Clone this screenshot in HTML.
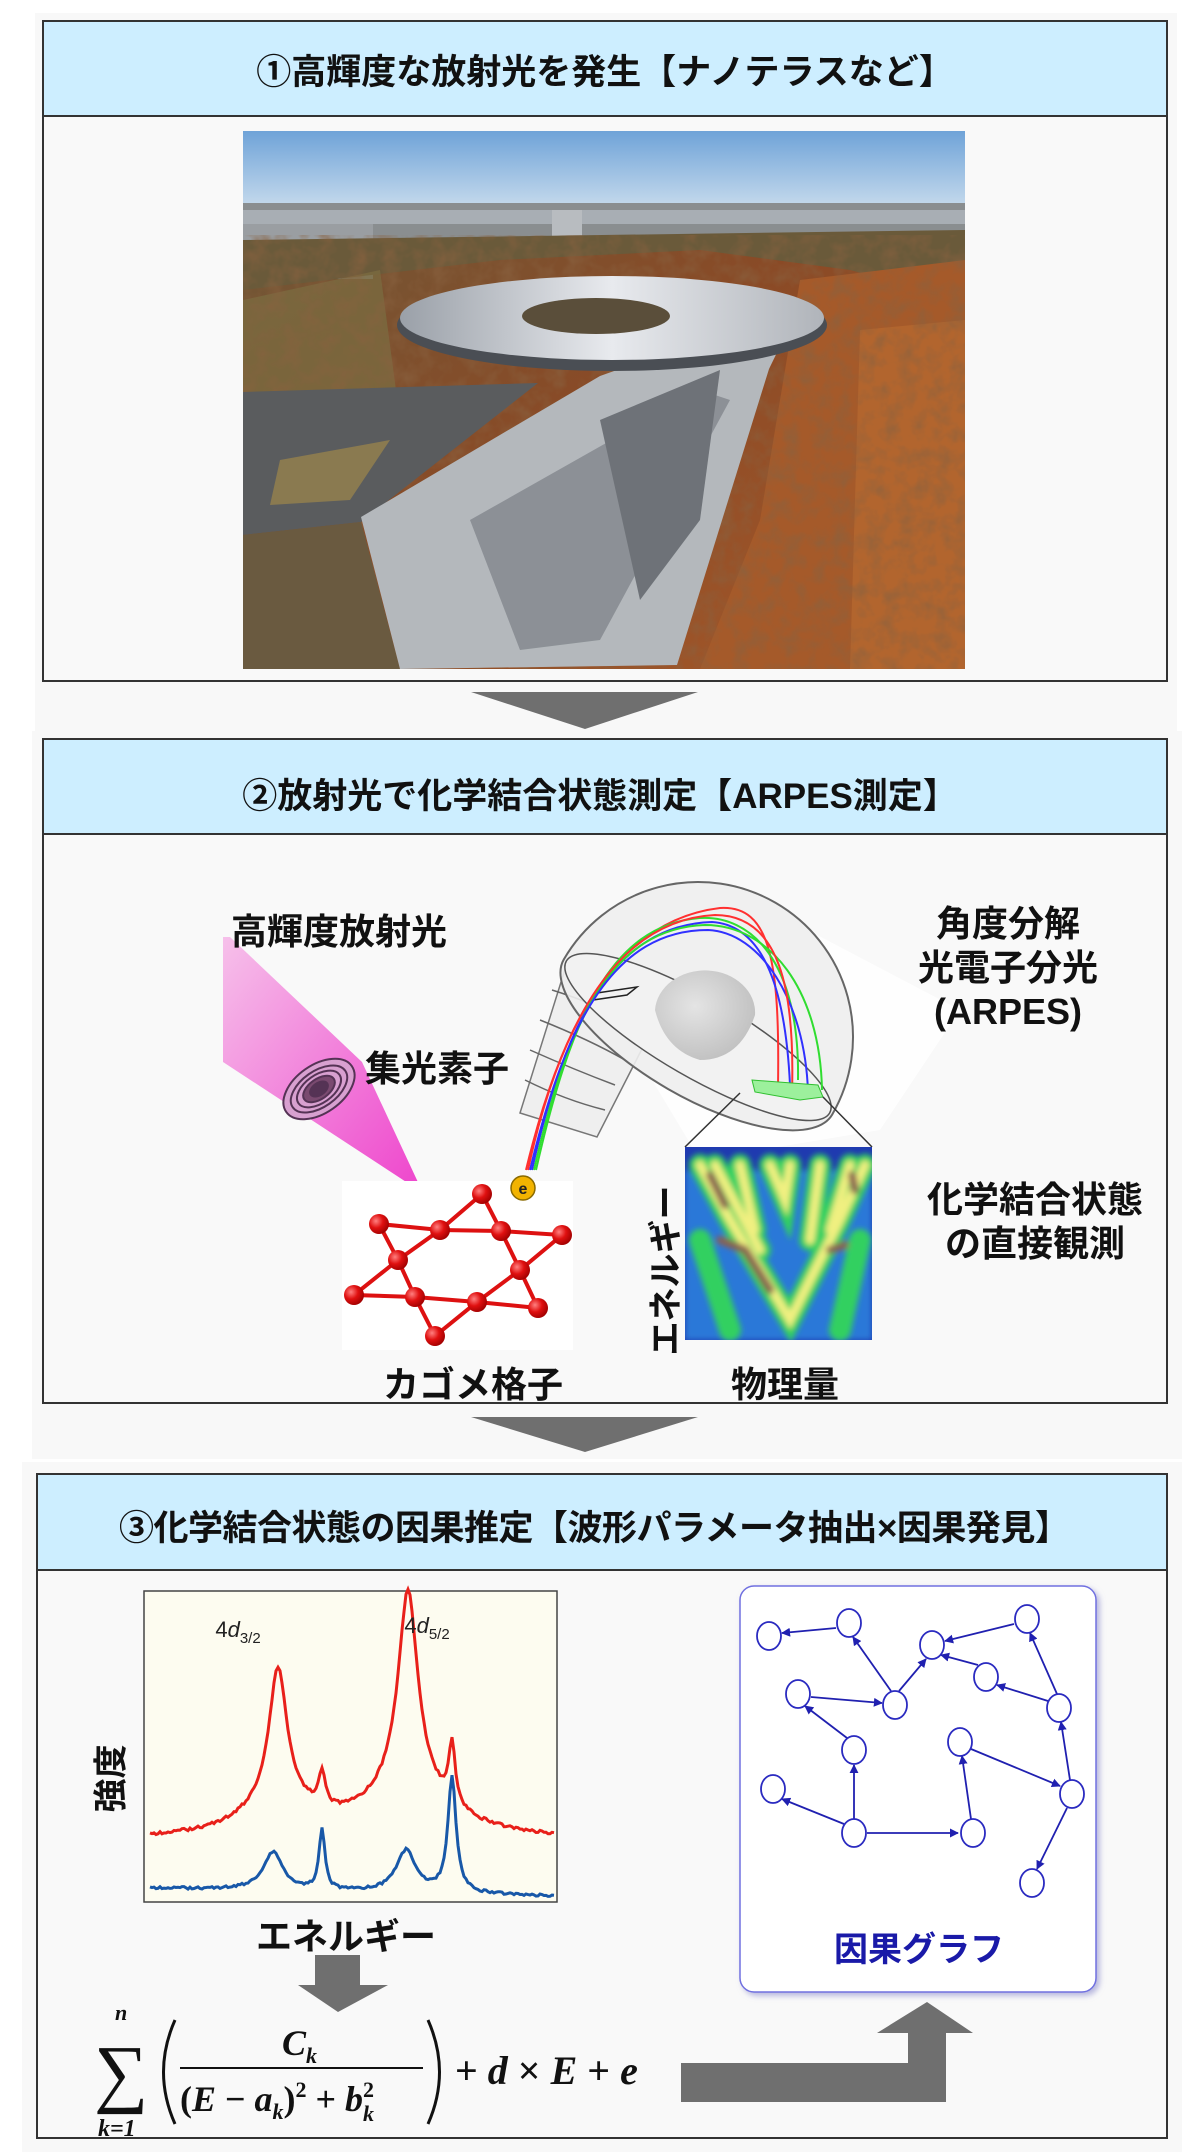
<!DOCTYPE html>
<html><head><meta charset="utf-8">
<style>
html,body{margin:0;padding:0;background:#fff;}
body{width:1200px;height:2155px;position:relative;overflow:hidden;font-family:"Liberation Sans","Noto Sans CJK JP",sans-serif;}
.t{position:absolute;font-weight:bold;color:#111;white-space:nowrap;font-family:"Liberation Sans","Noto Sans CJK JP",sans-serif;}
</style></head><body>
<svg width="1200" height="2155" viewBox="0 0 1200 2155" style="position:absolute;left:0;top:0">
<defs>
<linearGradient id="sky" x1="0" y1="0" x2="0" y2="1"><stop offset="0" stop-color="#6fa3d8"/><stop offset="1" stop-color="#c4d9ec"/></linearGradient>
<linearGradient id="forest" x1="0" y1="0" x2="1" y2="1"><stop offset="0" stop-color="#6a5a3a"/><stop offset="0.5" stop-color="#8a4a26"/><stop offset="1" stop-color="#a85a2a"/></linearGradient>
<linearGradient id="beam" x1="0" y1="0" x2="1" y2="1"><stop offset="0" stop-color="#f6c0ea"/><stop offset="1" stop-color="#ee44cc"/></linearGradient>
<linearGradient id="ring" x1="0" y1="0" x2="1" y2="0"><stop offset="0" stop-color="#9aa0a8"/><stop offset="0.5" stop-color="#e8eaee"/><stop offset="1" stop-color="#b0b4ba"/></linearGradient>
<radialGradient id="ball" cx="0.35" cy="0.35" r="0.7"><stop offset="0" stop-color="#ff8080"/><stop offset="0.5" stop-color="#e01010"/><stop offset="1" stop-color="#a00000"/></radialGradient>
<radialGradient id="hemi" cx="0.4" cy="0.4" r="0.7"><stop offset="0" stop-color="#e4e4e4"/><stop offset="1" stop-color="#bdbdbd"/></radialGradient>
<filter id="bl" x="-10%" y="-10%" width="120%" height="120%"><feGaussianBlur stdDeviation="3"/></filter>
<filter id="tex" x="0" y="0" width="100%" height="100%"><feTurbulence type="fractalNoise" baseFrequency="0.06" numOctaves="3" seed="4"/><feColorMatrix values="0 0 0 0 0.25  0 0 0 0 0.12  0 0 0 0 0.05  0 0 0 1.3 -0.5"/></filter>
<filter id="sh"><feDropShadow dx="3" dy="3" stdDeviation="3" flood-color="#8888cc" flood-opacity="0.6"/></filter>
<clipPath id="photo"><rect x="243" y="131" width="722" height="538"/></clipPath>
<clipPath id="arp"><rect x="685" y="1147" width="187" height="193"/></clipPath>
<marker id="ah" viewBox="0 0 10 10" refX="9" refY="5" markerWidth="9" markerHeight="9" markerUnits="userSpaceOnUse" orient="auto"><path d="M0,0 L10,5 L0,10 z" fill="#2020b0"/></marker>
</defs>

<rect x="35" y="13" width="1142" height="718" fill="#f8f8f8"/>
<rect x="32" y="731" width="1150" height="728" fill="#f8f8f8"/>
<rect x="22" y="1462" width="1160" height="690" fill="#f8f8f8"/>

<rect x="43" y="21" width="1124" height="660" fill="#f9f9f9" stroke="#333" stroke-width="2"/>
<rect x="43" y="21" width="1124" height="95" fill="#cdeeff" stroke="#333" stroke-width="2"/>
<rect x="43" y="739" width="1124" height="664" fill="#f9f9f9" stroke="#333" stroke-width="2"/>
<rect x="43" y="739" width="1124" height="95" fill="#cdeeff" stroke="#333" stroke-width="2"/>
<rect x="37" y="1474" width="1130" height="664" fill="#f9f9f9" stroke="#333" stroke-width="2"/>
<rect x="37" y="1474" width="1130" height="96" fill="#cdeeff" stroke="#333" stroke-width="2"/>

<polygon points="471,692 698,692 585,729" fill="#6f6f6f"/>
<polygon points="471,1417 698,1417 585,1452" fill="#6f6f6f"/>

<g clip-path="url(#photo)">
<rect x="243" y="131" width="722" height="538" fill="url(#forest)"/>
<rect x="243" y="131" width="722" height="75" fill="url(#sky)"/>
<rect x="243" y="203" width="722" height="40" fill="#8a8e90"/>
<rect x="243" y="210" width="722" height="14" fill="#a8aeb4"/>
<rect x="243" y="224" width="130" height="55" fill="#9a9ea2"/>
<rect x="552" y="210" width="30" height="35" fill="#b8bcc0"/>
<path d="M243,240 L965,230 L965,300 L850,270 L700,250 L500,260 L243,290 Z" fill="#6a5a3a"/>
<path d="M243,300 L380,270 L400,420 L243,470 Z" fill="#7a6a40" opacity="0.8"/>
<path d="M800,280 L965,260 L965,669 L700,669 L760,520 Z" fill="#a55a2a"/>
<path d="M860,330 L965,320 L965,669 L850,669 Z" fill="#b86a30" opacity="0.7"/>
<rect x="243" y="235" width="722" height="434" filter="url(#tex)"/>
<path d="M243,392 L538,383 L361,522 L243,535 Z" fill="#5a5c5e"/>
<path d="M280,460 L390,440 L350,500 L270,505 Z" fill="#8a7a50"/>
<path d="M243,535 L361,522 L400,669 L243,669 Z" fill="#6a5a40"/>
<path d="M361,517 L600,376 L800,305 L769,369 L677,665 L400,669 Z" fill="#b4b8bc"/>
<path d="M470,520 L700,390 L730,400 L600,640 L520,650 Z" fill="#8c9096"/>
<path d="M600,420 L720,370 L700,520 L640,600 Z" fill="#6e7278"/>
<ellipse cx="612" cy="325" rx="215" ry="46" fill="#4a4e54"/>
<ellipse cx="612" cy="318" rx="212" ry="42" fill="url(#ring)"/>
<ellipse cx="596" cy="316" rx="74" ry="18" fill="#5a4e3a"/>
</g>

<polygon points="600,930 760,905 960,1010 880,1130 700,1160 640,1060" fill="#ffffff" opacity="0.8"/>
<polygon points="223,937 230,937 362,1062 423,1193 223,1062" fill="url(#beam)"/>
<g transform="translate(319,1089) rotate(-35)" fill="none" stroke="#553355" stroke-width="2">
<ellipse rx="40" ry="24" fill="#d8a0d0"/><ellipse rx="32" ry="18"/><ellipse rx="25" ry="14"/><ellipse rx="18" ry="10" fill="#7a4a70"/><ellipse rx="10" ry="6" fill="#553355"/>
</g>
<rect x="342" y="1181" width="231" height="169" fill="#fff"/>
<g stroke="#dd1111" stroke-width="4" fill="none">
<polyline points="482,1194 440,1230 398,1260 354,1295 415,1297 477,1302 538,1308 520,1270 501,1231 482,1194"/>
<polyline points="379,1224 440,1230 501,1231 562,1235 520,1270 477,1302 435,1336 415,1297 398,1260 379,1224"/>
</g>
<g fill="url(#ball)">
<circle cx="482" cy="1194" r="10"/><circle cx="379" cy="1224" r="10"/><circle cx="440" cy="1230" r="10"/><circle cx="501" cy="1231" r="10"/><circle cx="562" cy="1235" r="10"/><circle cx="398" cy="1260" r="10"/><circle cx="520" cy="1270" r="10"/><circle cx="354" cy="1295" r="10"/><circle cx="415" cy="1297" r="10"/><circle cx="477" cy="1302" r="10"/><circle cx="538" cy="1308" r="10"/><circle cx="435" cy="1336" r="10"/>
</g>

<path d="M567,963 L643,1047 L597,1137 L520,1113 Z" fill="#efefef" stroke="#777" stroke-width="1.5"/>
<g stroke="#666" stroke-width="1.5" fill="none">
<path d="M552,990 Q600,1005 633,1025"/><path d="M540,1020 Q590,1040 625,1060"/><path d="M530,1050 Q575,1070 615,1085"/><path d="M525,1080 Q565,1100 605,1110"/>
</g>
<g transform="translate(698,1037) rotate(30)">
<path d="M-155,0 A155,155 0 0 1 155,0 A155,60 0 0 1 -155,0 Z" fill="#eeeeee" fill-opacity="0.9" stroke="#666" stroke-width="2"/>
<ellipse rx="152" ry="40" fill="#f2f2f2" stroke="#555" stroke-width="1.5"/>
</g>
<path d="M655,1010 A50,42 0 0 1 755,1015 Q740,1060 700,1060 Q665,1050 655,1010 Z" fill="url(#hemi)"/>
<polygon points="597,993 637,987 627,995 593,1000" fill="none" stroke="#222" stroke-width="1.5"/>
<g fill="none" stroke-width="2">
<path d="M528,1170 C560,1020 620,920 720,908 C770,905 780,960 778,1088" stroke="#ff3030"/>
<path d="M532,1170 C565,1020 615,925 712,922 C760,925 785,980 790,1085" stroke="#3030ff"/>
<path d="M536,1170 C570,1020 610,925 700,918 C750,915 800,960 798,1080" stroke="#30dd30"/>
<path d="M534,1170 C568,1020 612,928 705,925 C770,925 820,990 822,1090" stroke="#30dd30"/>
<path d="M530,1170 C566,1020 615,930 708,930 C760,932 805,1000 808,1092" stroke="#3030ff"/>
<path d="M526,1170 C562,1020 618,920 715,915 C780,915 795,990 792,1093" stroke="#ff3030"/>
</g>
<polygon points="752,1080 818,1085 823,1097 800,1100 755,1092" fill="#9cf09c" stroke="#30c030" stroke-width="1"/>
<line x1="740" y1="1093" x2="685" y2="1147" stroke="#333" stroke-width="1.5"/>
<line x1="823" y1="1097" x2="872" y2="1147" stroke="#333" stroke-width="1.5"/>
<circle cx="523" cy="1188" r="12" fill="#f2b300" stroke="#8a6a00" stroke-width="1.5"/>
<text x="523" y="1194" text-anchor="middle" font-size="16" font-weight="bold" font-family="Liberation Sans,sans-serif" fill="#222">e</text>

<rect x="685" y="1147" width="187" height="193" fill="#1f3ab0"/>
<g clip-path="url(#arp)">
<rect x="685" y="1170" width="187" height="170" fill="#2a78d8" filter="url(#bl)"/>
<g fill="none" stroke-linecap="round" filter="url(#bl)">
<g stroke="#30d060" stroke-width="22">
<path d="M700,1165 L730,1220 L790,1320 L840,1220 L865,1165"/><path d="M715,1165 L760,1250"/><path d="M740,1165 L755,1230"/><path d="M790,1165 L785,1200 L770,1165"/><path d="M820,1165 L810,1240"/><path d="M850,1165 L830,1230"/><path d="M700,1240 L730,1330"/><path d="M860,1240 L840,1330"/>
</g>
<g stroke="#f0f080" stroke-width="9">
<path d="M700,1165 L730,1220 L790,1320 L840,1220 L865,1165"/><path d="M715,1165 L760,1250"/><path d="M740,1165 L755,1230"/><path d="M790,1165 L785,1200 L770,1165"/><path d="M820,1165 L810,1240"/><path d="M850,1165 L830,1230"/>
</g>
<g stroke="#8a6050" stroke-width="8">
<path d="M710,1175 L725,1205"/><path d="M720,1240 L745,1250 L770,1290"/><path d="M830,1250 L845,1245"/><path d="M852,1175 L855,1190"/>
</g>
</g>
</g>

<rect x="144" y="1591" width="413" height="311" fill="#fdfcf0" stroke="#444" stroke-width="1.5"/>
<path id="red" fill="none" stroke="#e8201a" stroke-width="3"/>
<path id="blue" fill="none" stroke="#1858a8" stroke-width="3"/>
<text x="238" y="1637" font-size="22" font-family="Liberation Sans,sans-serif" fill="#222" text-anchor="middle">4<tspan font-style="italic">d</tspan><tspan font-size="15" dy="6">3/2</tspan></text>
<text x="427" y="1633" font-size="22" font-family="Liberation Sans,sans-serif" fill="#222" text-anchor="middle">4<tspan font-style="italic">d</tspan><tspan font-size="15" dy="6">5/2</tspan></text>

<polygon points="315,1955 360,1955 360,1985 388,1985 338,2012 298,1985 315,1985" fill="#6f6f6f"/>
<polygon points="681,2063 908,2063 908,2033 877,2033 927,2002 973,2033 946,2033 946,2102 681,2102" fill="#6f6f6f"/>

<rect x="740" y="1586" width="356" height="406" rx="14" fill="#fff" stroke="#7070e0" stroke-width="1.5" filter="url(#sh)"/>
<g stroke="#2020b0" stroke-width="1.8" fill="none" marker-end="url(#ah)">
<line x1="836" y1="1628" x2="782" y2="1633"/>
<line x1="891" y1="1691" x2="853" y2="1637"/>
<line x1="899" y1="1691" x2="926" y2="1659"/>
<line x1="1014" y1="1624" x2="945" y2="1641"/>
<line x1="1057" y1="1694" x2="1030" y2="1633"/>
<line x1="1048" y1="1701" x2="997" y2="1685"/>
<line x1="978" y1="1665" x2="941" y2="1655"/>
<line x1="811" y1="1697" x2="882" y2="1703"/>
<line x1="847" y1="1738" x2="805" y2="1706"/>
<line x1="854" y1="1819" x2="854" y2="1765"/>
<line x1="844" y1="1824" x2="782" y2="1799"/>
<line x1="867" y1="1833" x2="958" y2="1833"/>
<line x1="971" y1="1819" x2="962" y2="1756"/>
<line x1="971" y1="1749" x2="1060" y2="1786"/>
<line x1="1070" y1="1780" x2="1061" y2="1722"/>
<line x1="1067" y1="1808" x2="1037" y2="1869"/>
</g>
<g fill="#fff" stroke="#2a2ac0" stroke-width="1.8">
<ellipse cx="769" cy="1636" rx="12" ry="14"/><ellipse cx="849" cy="1623" rx="12" ry="14"/><ellipse cx="932" cy="1645" rx="12" ry="14"/><ellipse cx="1027" cy="1619" rx="12" ry="14"/><ellipse cx="986" cy="1677" rx="12" ry="14"/><ellipse cx="798" cy="1694" rx="12" ry="14"/><ellipse cx="895" cy="1705" rx="12" ry="14"/><ellipse cx="1059" cy="1708" rx="12" ry="14"/><ellipse cx="854" cy="1750" rx="12" ry="14"/><ellipse cx="960" cy="1742" rx="12" ry="14"/><ellipse cx="773" cy="1789" rx="12" ry="14"/><ellipse cx="1072" cy="1794" rx="12" ry="14"/><ellipse cx="854" cy="1833" rx="12" ry="14"/><ellipse cx="973" cy="1833" rx="12" ry="14"/><ellipse cx="1032" cy="1883" rx="12" ry="14"/>
</g>

<!-- formula -->
<g font-family="Liberation Serif,serif" font-style="italic" font-weight="bold" fill="#111">
<text x="115" y="2020" font-size="22">n</text>
<text x="94" y="2098" font-size="76" font-style="normal" font-weight="normal">∑</text>
<text x="98" y="2136" font-size="24">k=1</text>
<path d="M175,2020 Q152,2072 175,2124" fill="none" stroke="#111" stroke-width="3"/>
<text x="282" y="2055" font-size="36">C<tspan font-size="22" dy="8">k</tspan></text>
<line x1="180" y1="2068" x2="423" y2="2068" stroke="#111" stroke-width="2"/>
<text x="180" y="2111" font-size="36"><tspan font-style="normal">(</tspan>E <tspan font-style="normal">−</tspan> a<tspan font-size="22" dy="8">k</tspan><tspan dy="-8" font-style="normal">)</tspan><tspan font-size="22" dy="-14" font-style="normal">2</tspan><tspan dy="14" font-style="normal"> + </tspan>b<tspan font-size="22" dy="-14" font-style="normal">2</tspan><tspan font-size="22" dx="-11" dy="24">k</tspan></text>
<path d="M428,2020 Q451,2072 428,2124" fill="none" stroke="#111" stroke-width="3"/>
<text x="455" y="2084" font-size="40"><tspan font-style="normal">+</tspan> d <tspan font-style="normal">×</tspan> E <tspan font-style="normal">+</tspan> e</text>
</g>
</svg>

<div class="t" style="left:0;width:1210px;top:44px;font-size:35px;text-align:center;">①高輝度な放射光を発生【ナノテラスなど】</div>
<div class="t" style="left:0;width:1200px;top:768px;font-size:35px;text-align:center;">②放射光で化学結合状態測定【ARPES測定】</div>
<div class="t" style="left:119px;top:1500px;font-size:35px;letter-spacing:-0.5px;">③化学結合状態の因果推定【波形パラメータ抽出×因果発見】</div>

<div class="t" style="left:231px;top:903px;font-size:36px;">高輝度放射光</div>
<div class="t" style="left:365px;top:1040px;font-size:36px;">集光素子</div>
<div class="t" style="left:908px;top:902px;width:200px;font-size:36px;text-align:center;line-height:44px;">角度分解<br>光電子分光<br>(ARPES)</div>
<div class="t" style="left:910px;top:1178px;width:250px;font-size:36px;text-align:center;line-height:44px;">化学結合状態<br>の直接観測</div>
<div class="t" style="left:373px;top:1356px;width:200px;font-size:36px;text-align:center;">カゴメ格子</div>
<div class="t" style="left:685px;top:1356px;width:200px;font-size:36px;text-align:center;">物理量</div>
<div class="t" style="left:588px;top:1256px;width:150px;font-size:34px;text-align:center;transform:rotate(-90deg);">エネルギー</div>

<div class="t" style="left:58px;top:1754px;width:100px;font-size:34px;text-align:center;transform:rotate(-90deg);">強度</div>
<div class="t" style="left:246px;top:1908px;width:200px;font-size:36px;text-align:center;">エネルギー</div>
<div class="t" style="left:819px;top:1922px;width:200px;font-size:34px;text-align:center;color:#1a1aa8;">因果グラフ</div>

<script>
function L(x,c,w,h){return h*w*w/((x-c)*(x-c)+w*w);}
function build(id,base,slope,pk,noise){
 var d="",s=1;
 for(var x=150;x<=554;x+=2){
  var y=base+slope*(x-150);
  for(var i=0;i<pk.length;i++)y-=L(x,pk[i][0],pk[i][1],pk[i][2]);
  s=(s*9301+49297)%233280; y+=(s/233280-0.5)*noise;
  d+=(x==150?"M":"L")+x+","+y.toFixed(1);
 }
 document.getElementById(id).setAttribute("d",d);
}
build("red",1840,0.0,[[278,11,135],[322,4,35],[408,12,200],[452,4,60],[278,45,30],[408,50,45]],3);
build("blue",1888,0.02,[[273,12,38],[322,3.5,62],[406,12,42],[452,5,115]],2.5);
</script>
</body></html>
